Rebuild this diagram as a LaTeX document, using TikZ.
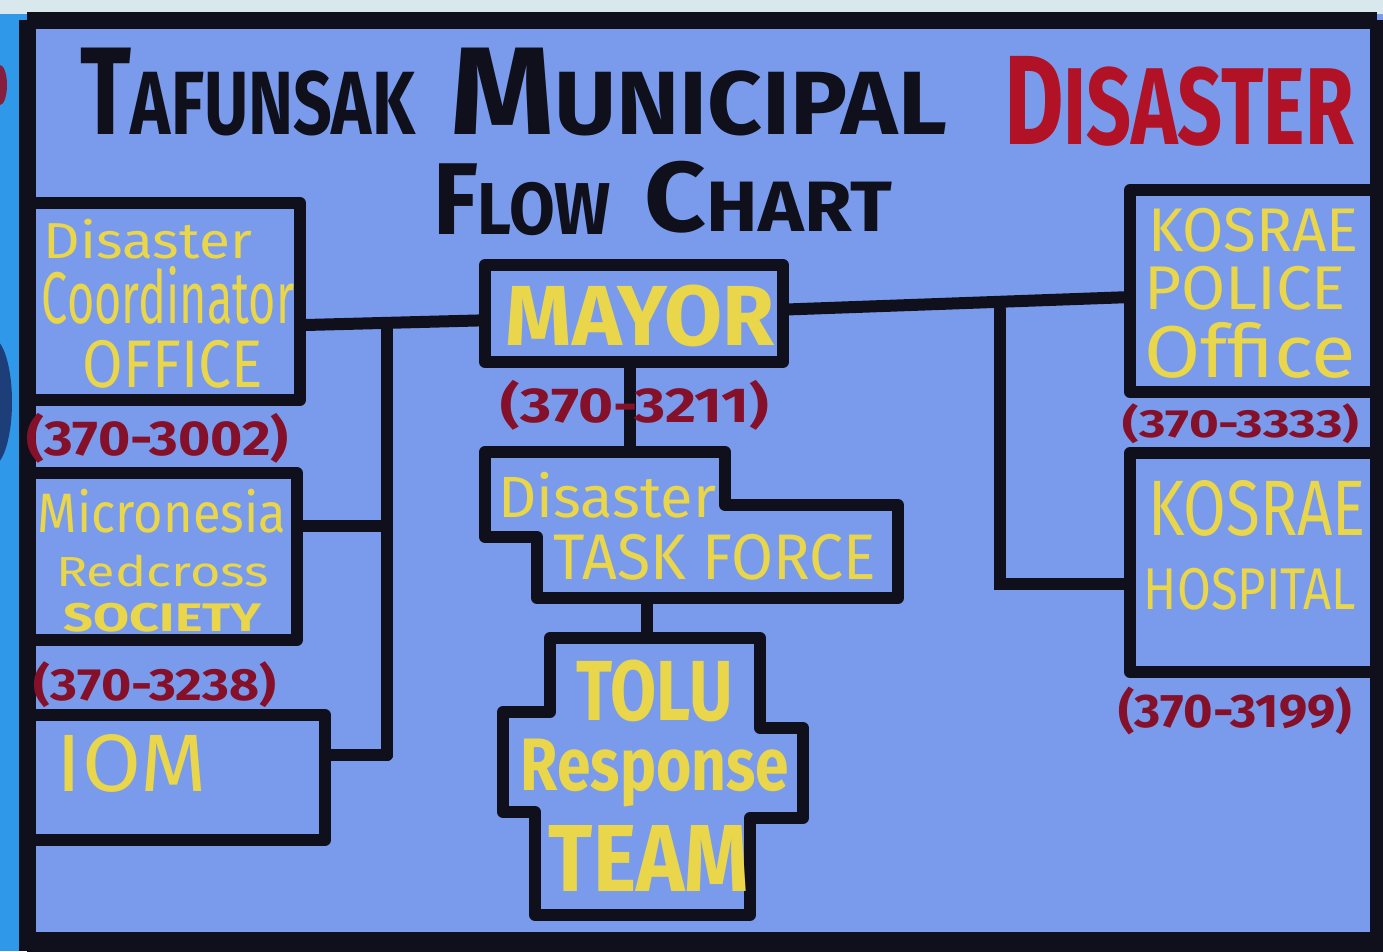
\documentclass[tikz,border=0pt]{standalone}
\usepackage{fontspec}
\setmainfont{Fira Sans}
\usepackage{graphicx}
\usetikzlibrary{calc}

\definecolor{wall}{RGB}{122,155,235}
\definecolor{sidewall}{RGB}{48,152,232}
\definecolor{sky}{RGB}{216,232,236}
\definecolor{ink}{RGB}{16,16,28}
\definecolor{paint}{RGB}{234,214,74}
\definecolor{wine}{RGB}{132,16,42}
\definecolor{scarlet}{RGB}{178,18,38}
\definecolor{navy}{RGB}{30,62,122}

% one drawing unit = 0.02cm; text is scaled into a w x h box of those units
\newlength\pxu
\setlength\pxu{0.02cm}
\newcommand\fitto[3]{\resizebox*{#1\pxu}{#2\pxu}{#3}}
% word with a taller first letter
\newcommand\capword[2]{{\fontsize{100}{100}\selectfont #1}{\fontsize{72}{72}\selectfont #2}}

\begin{document}
\begin{tikzpicture}[x=0.02cm,y=-0.02cm,
  box/.style={draw=ink, line width=12\pxu, rectangle, inner sep=0pt, outer sep=0pt, line join=round},
  outline/.style={draw=ink, line width=12\pxu, line join=round},
  wire/.style={draw=ink, line width=12\pxu, line cap=round},
  frame/.style={draw=ink, line width=17\pxu},
  lbl/.style={inner sep=0pt, text=paint},
  tel/.style={inner sep=0pt, text=wine, font=\bfseries},
  head/.style={inner sep=0pt, text=ink, font=\bfseries}]
\useasboundingbox (0,0) rectangle (1383,951);

% wall and surroundings
\fill[sky] (0,0) rectangle (1383,14);
\fill[sidewall] (0,14) rectangle (30,951);
\fill[wall] (30,14) rectangle (1383,951);
\begin{scope}
  \clip (0,14) rectangle (18,951);
  \fill[navy] (-8,402) ellipse (20 and 64);
  \fill[scarlet!70!navy] (0,85) ellipse (7 and 20);
\end{scope}

% painted frame
\draw[frame] (27,20) -- (1377,20);
\draw[frame] (27,20) -- (27,951);
\draw[ink, line width=20\pxu] (27,942) -- (1383,942);
\draw[ink, line width=14\pxu] (1377,20) -- (1377,951);

% title
\node[head] (ttl1) at (247.5,92) {\fitto{335}{88}{\capword{T}{AFUNSAK}}};
\node[head] (ttl2) at (698.5,92) {\fitto{497}{88}{\capword{M}{UNICIPAL}}};
\node[head, text=scarlet] (ttl3) at (1179,101) {\fitto{350}{90}{{\fontsize{100}{100}\selectfont D}{\fontsize{86}{86}\selectfont ISASTER}}};
\node[head] (ttl4) at (522,200) {\fitto{178}{72}{\capword{F}{LOW}}};
\node[head] (ttl5) at (768.5,197) {\fitto{247}{72}{\capword{C}{HART}}};

% rectangular offices
\node[box, minimum width=273\pxu, minimum height=197\pxu] (coord) at (163.5,301.5) {};
\node[box, minimum width=270\pxu, minimum height=167\pxu] (redx) at (162,556.5) {};
\node[box, minimum width=298\pxu, minimum height=125\pxu] (iom) at (176,777.5) {};
\node[box, minimum width=298\pxu, minimum height=97\pxu] (mayor) at (634,313.5) {};
\node[box, minimum width=246\pxu, minimum height=202\pxu] (police) at (1253,291) {};
\node[box, minimum width=246\pxu, minimum height=219\pxu] (hosp) at (1253,562.5) {};

% stepped boxes
\draw[outline] (485,452) -- (725,452) -- (725,505) -- (898,505) -- (898,598)
  -- (537,598) -- (537,537) -- (485,537) -- cycle;
\coordinate (tftop) at (630,452);
\coordinate (tfbot) at (647,598);
\draw[outline] (550,638) -- (760,638) -- (760,728) -- (803,728) -- (803,818)
  -- (750,818) -- (750,915) -- (535,915) -- (535,812) -- (503,812)
  -- (503,712) -- (550,712) -- cycle;
\coordinate (tolutop) at (647,638);

% attachment points on box sides
\coordinate (coordport) at ($(coord.north east)!0.62!(coord.south east)$);
\coordinate (redxport) at ($(redx.north east)!0.32!(redx.south east)$);
\coordinate (iomport) at ($(iom.north east)!0.32!(iom.south east)$);
\coordinate (mayorleft) at ($(mayor.north west)!0.57!(mayor.south west)$);
\coordinate (mayorright) at ($(mayor.north east)!0.46!(mayor.south east)$);
\coordinate (policeport) at ($(police.north west)!0.53!(police.south west)$);
\coordinate (hospport) at ($(hosp.north west)!0.6!(hosp.south west)$);
\coordinate (lbus) at (387,0);
\coordinate (rbus) at (1000,0);

% connectors
\draw[wire] (coordport) -- (mayorleft);
\draw[wire] (lbus |- coordport) -- (lbus |- iomport);
\draw[wire] (redxport) -- (lbus |- redxport);
\draw[wire] (iomport) -- (lbus |- iomport);
\draw[wire] (mayorright) -- (policeport);
\draw[wire] (rbus |- mayorright) -- (rbus |- hospport) -- (hospport);
\draw[wire] (mayor.south -| tftop) -- (tftop);
\draw[wire] (tfbot) -- (tolutop);

% labels, left column
\node[lbl] (l1) at (148,239) {\fitto{208}{40}{Disaster}};
\node[lbl] (l2) at (168,295) {\fitto{252}{58}{Coordinator}};
\node[lbl] (l3) at (173,364) {\fitto{180}{48}{OFFICE}};
\node[tel] (p1) at (157.5,438) {\fitto{262}{50}{(370-3002)}};
\node[lbl] (l4) at (162,511) {\fitto{248}{44}{Micronesia}};
\node[lbl] (l5) at (162.5,571) {\fitto{213}{32}{Redcross}};
\node[lbl, font=\bfseries] (l6) at (163,618) {\fitto{198}{29}{SOCIETY}};
\node[tel] (p2) at (155,685) {\fitto{242}{46}{(370-3238)}};
\node[lbl] (l7) at (132,763) {\fitto{150}{58}{IOM}};

% labels, centre column
\node[lbl, font=\bfseries] (c1) at (640,316) {\fitto{268}{62}{MAYOR}};
\node[tel] (p3) at (635,405) {\fitto{268}{50}{(370-3211)}};
\node[lbl] (c2) at (607,495) {\fitto{218}{46}{Disaster}};
\node[lbl] (c3) at (715,557) {\fitto{322}{46}{TASK FORCE}};
\node[lbl, font=\bfseries] (c4) at (655,691) {\fitto{156}{62}{TOLU}};
\node[lbl, font=\bfseries] (c5) at (655,773) {\fitto{268}{68}{Response}};
\node[lbl, font=\bfseries] (c6) at (649,858) {\fitto{200}{66}{TEAM}};

% labels, right column
\node[lbl] (r1) at (1253.5,230) {\fitto{211}{44}{KOSRAE}};
\node[lbl] (r2) at (1245,288) {\fitto{202}{44}{POLICE}};
\node[lbl] (r3) at (1250,350) {\fitto{212}{56}{Office}};
\node[tel] (p4) at (1241,424) {\fitto{236}{40}{(370-3333)}};
\node[lbl] (r4) at (1257,508) {\fitto{218}{56}{KOSRAE}};
\node[lbl] (r5) at (1250,589) {\fitto{212}{42}{HOSPITAL}};
\node[tel] (p5) at (1235,711) {\fitto{234}{48}{(370-3199)}};
\end{tikzpicture}
\end{document}
